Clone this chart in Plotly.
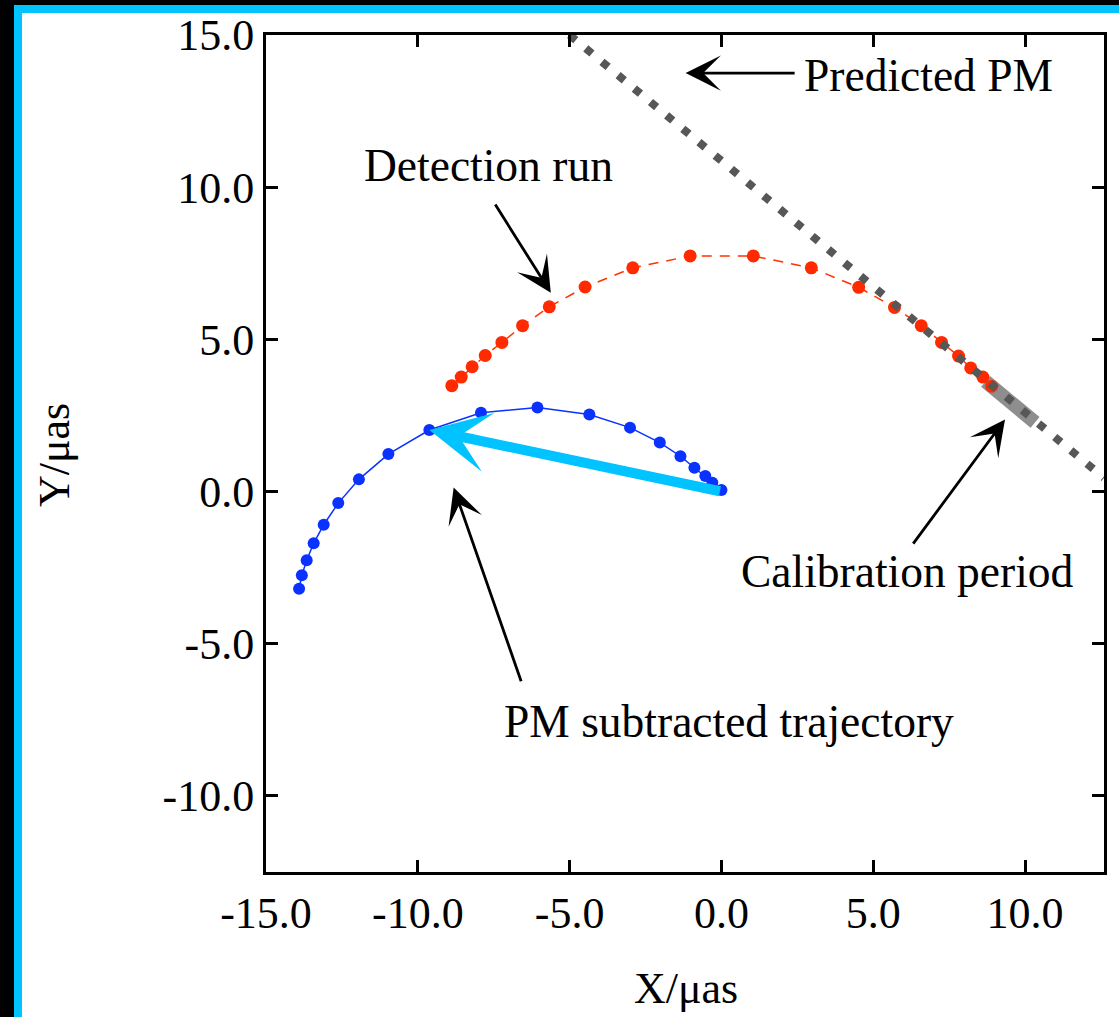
import plotly.graph_objects as go

# ---------------- data ----------------
det_x = [-8.88, -8.57, -8.21, -7.78, -7.23, -6.55, -5.67, -4.49, -2.92, -1.03,
         1.05, 2.96, 4.52, 5.70, 6.58, 7.25, 7.81, 8.21, 8.61, 8.90]
det_y = [3.48, 3.76, 4.10, 4.47, 4.90, 5.45, 6.07, 6.72, 7.35, 7.74,
         7.74, 7.35, 6.71, 6.05, 5.45, 4.90, 4.45, 4.06, 3.76, 3.46]

sub_x = [-13.91, -13.82, -13.66, -13.43, -13.10, -12.62, -11.94, -10.97, -9.62, -7.92,
         -6.06, -4.35, -3.01, -2.03, -1.35, -0.89, -0.53, -0.30, 0.0]
sub_y = [-3.19, -2.75, -2.26, -1.70, -1.09, -0.38, 0.40, 1.23, 2.02, 2.59,
         2.76, 2.53, 2.10, 1.61, 1.16, 0.78, 0.51, 0.29, 0.05]

pm_x = [-5.0, 12.6]
pm_y = [15.0, 0.45]

cal_x = [8.70, 10.33]
cal_y = [3.62, 2.27]

# net displacement arrow (origin -> point)
net_start = (0.0, 0.0)
net_end = (-9.62, 2.02)

x_ticks = [-15, -10, -5, 0, 5, 10]
x_ticktext = ["-15.0", "-10.0", "-5.0", "0.0", "5.0", "10.0"]
y_ticks = [-10, -5, 0, 5, 10, 15]
y_ticktext = ["-10.0", "-5.0", "0.0", "5.0", "10.0", "15.0"]

x_range = [-15, 12.6]
y_range = [-12.5, 15]

# annotations: (text, x, y, xanchor)
labels = [
    ("Predicted PM", 2.66, 13.68, "left"),
    ("Detection run", -7.68, 10.72, "center"),
    ("Calibration period", 6.14, -2.62, "center"),
    ("PM subtracted trajectory", 0.26, -7.55, "center"),
]
# arrows: (tail_x, tail_y, head_x, head_y)
pointers = [
    (2.46, 13.75, -1.18, 13.75),
    (-7.48, 9.48, -5.62, 6.53),
    (6.28, -1.76, 9.34, 2.37),
    (-6.58, -6.28, -8.82, 0.13),
]

# ---------------- layout geometry ----------------
W, H = 1119, 1017
ML, MR, MT, MB = 266, 15, 35, 145
PW, PH = W - ML - MR, H - MT - MB
FONT = "Liberation Serif"


def px_x(px):
    return (px - ML) / PW


def px_y(py):
    return (H - MB - py) / PH


fig = go.Figure()

fig.add_trace(go.Scatter(x=cal_x, y=cal_y, mode="lines",
                         line=dict(color="#8e8e8e", width=14),
                         hoverinfo="skip", showlegend=False))
fig.add_trace(go.Scatter(x=det_x, y=det_y, mode="lines+markers",
                         line=dict(color="#ff3300", width=1.5, dash="10px,8px"),
                         marker=dict(color="#ff2a00", size=13),
                         showlegend=False))
fig.add_trace(go.Scatter(x=pm_x, y=pm_y, mode="lines",
                         line=dict(color="#575757", width=8, dash="8px,13px"),
                         hoverinfo="skip", showlegend=False))
fig.add_trace(go.Scatter(x=sub_x, y=sub_y, mode="lines+markers",
                         line=dict(color="#0a32ff", width=1.5),
                         marker=dict(color="#0a32ff", size=12),
                         showlegend=False))

annotations = []
# cyan net displacement arrow
annotations.append(dict(x=net_end[0], y=net_end[1], ax=net_start[0], ay=net_start[1],
                        xref="x", yref="y", axref="x", ayref="y", text="",
                        showarrow=True, arrowhead=3, arrowsize=1.0, arrowwidth=10,
                        arrowcolor="#00c3ff"))
for tx, ty, hx, hy in pointers:
    annotations.append(dict(x=hx, y=hy, ax=tx, ay=ty, xref="x", yref="y",
                            axref="x", ayref="y", text="", showarrow=True,
                            arrowhead=3, arrowsize=2.1, arrowwidth=2.8,
                            arrowcolor="black"))
for text, x, y, xa in labels:
    annotations.append(dict(x=x, y=y, xref="x", yref="y", text=text, showarrow=False,
                            xanchor=xa, yanchor="middle",
                            font=dict(family=FONT, size=45.5, color="black")))
# axis titles
annotations.append(dict(x=px_x(686), y=px_y(988), xref="paper", yref="paper",
                        text="X/μas", showarrow=False, xanchor="center", yanchor="middle",
                        font=dict(family=FONT, size=44, color="black")))
annotations.append(dict(x=px_x(54), y=px_y(455), xref="paper", yref="paper",
                        text="Y/μas", showarrow=False, xanchor="center", yanchor="middle",
                        textangle=-90,
                        font=dict(family=FONT, size=44, color="black")))

# frame (black outer edge + cyan band on top and left)
shapes = [
    dict(type="rect", xref="paper", yref="paper", x0=px_x(0), x1=px_x(W), y0=px_y(0), y1=px_y(5),
         fillcolor="black", line=dict(width=0), layer="above"),
    dict(type="rect", xref="paper", yref="paper", x0=px_x(0), x1=px_x(14), y0=px_y(0), y1=px_y(H),
         fillcolor="black", line=dict(width=0), layer="above"),
    dict(type="rect", xref="paper", yref="paper", x0=px_x(14), x1=px_x(W), y0=px_y(5), y1=px_y(13),
         fillcolor="#00c3ff", line=dict(width=0), layer="above"),
    dict(type="rect", xref="paper", yref="paper", x0=px_x(14), x1=px_x(22), y0=px_y(5), y1=px_y(H),
         fillcolor="#00c3ff", line=dict(width=0), layer="above"),
]

axis_common = dict(showgrid=False, zeroline=False, showline=True, linecolor="black",
                   linewidth=3, mirror="ticks", ticks="inside", ticklen=12, tickwidth=3,
                   tickcolor="black", tickfont=dict(family=FONT, size=44, color="black"))

fig.update_layout(
    width=W, height=H,
    margin=dict(l=ML, r=MR, t=MT, b=MB),
    paper_bgcolor="white", plot_bgcolor="white",
    xaxis=dict(range=x_range, tickvals=x_ticks, ticktext=x_ticktext, **axis_common),
    yaxis=dict(range=y_range, tickvals=y_ticks, ticktext=y_ticktext, **axis_common),
    annotations=annotations,
    shapes=shapes,
    showlegend=False,
)

fig.write_html("out.html")
